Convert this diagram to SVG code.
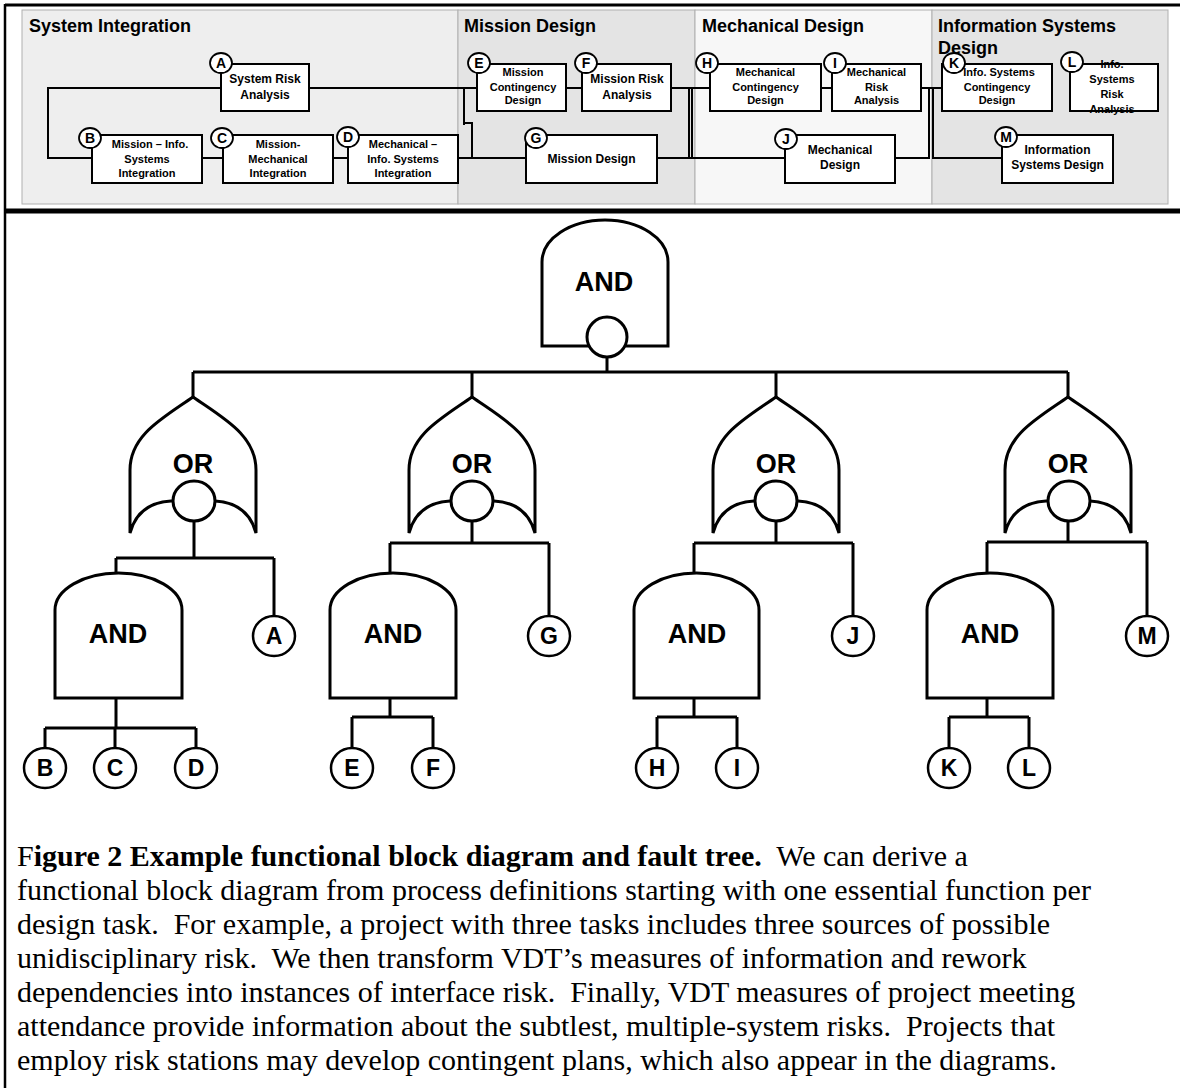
<svg xmlns="http://www.w3.org/2000/svg" width="1180" height="1088" viewBox="0 0 1180 1088">
<style>
.bg{fill:#fff}
.panel{stroke:#b0b0b0;stroke-width:1}
.frame{stroke:#000;fill:none}
.box{fill:#fff;stroke:#000;stroke-width:2}
.tag{fill:#fff;stroke:#000;stroke-width:1.8}
.conn{fill:none;stroke:#000;stroke-width:2}
.ftc{fill:none;stroke:#000;stroke-width:3}
.gate{fill:#fff;stroke:#000;stroke-width:3}
.ev{fill:#fff;stroke:#000;stroke-width:2.5}
.title{font-family:"Liberation Sans",Arial,sans-serif;font-weight:bold;font-size:18px;fill:#000}
.t12{font-family:"Liberation Sans",Arial,sans-serif;font-weight:bold;font-size:12px;fill:#000;text-anchor:middle}
.t11{font-family:"Liberation Sans",Arial,sans-serif;font-weight:bold;font-size:11px;fill:#000;text-anchor:middle}
.tagt{font-family:"Liberation Sans",Arial,sans-serif;font-weight:bold;font-size:14px;fill:#000;text-anchor:middle}
.gt{font-family:"Liberation Sans",Arial,sans-serif;font-weight:bold;font-size:27px;fill:#000;text-anchor:middle}
.evt{font-family:"Liberation Sans",Arial,sans-serif;font-weight:bold;font-size:23px;fill:#000;text-anchor:middle}
.cap{font-family:"Liberation Serif","Times New Roman",serif;font-size:30px;fill:#000;white-space:pre}
</style>
<rect class="bg" x="0" y="0" width="1180" height="1088"/>

<!-- panels -->
<g id="panels">
<rect class="panel" x="22" y="10" width="436" height="194" fill="#eeeeee"/>
<rect class="panel" x="458" y="10" width="237" height="194" fill="#e4e4e4"/>
<rect class="panel" x="695" y="10" width="237" height="194" fill="#f7f7f7"/>
<rect class="panel" x="932" y="10" width="236" height="194" fill="#e4e4e4"/>
<text class="title" x="29" y="32">System Integration</text>
<text class="title" x="464" y="32">Mission Design</text>
<text class="title" x="702" y="32">Mechanical Design</text>
<text class="title" x="938" y="32">Information Systems</text>
<text class="title" x="938" y="54">Design</text>
</g>

<!-- frame -->
<g id="frame">
<line class="frame" x1="5" y1="5" x2="1180" y2="5" stroke-width="3"/>
<line class="frame" x1="5" y1="4" x2="5" y2="1088" stroke-width="2.5"/>
<line class="frame" x1="5" y1="211" x2="1180" y2="211" stroke-width="5"/>
</g>

<!-- block diagram connectors -->
<g id="block-connectors">
<path class="conn" d="M221 88 H48 V158 H92"/>
<path class="conn" d="M202 158 H223"/>
<path class="conn" d="M333 158 H348"/>
<path class="conn" d="M309 88 H477"/>
<path class="conn" d="M464 88 V125 M464 123 H472 V158"/>
<path class="conn" d="M458 158 H526"/>
<path class="conn" d="M566 88 H582"/>
<path class="conn" d="M671 88 H710"/>
<path class="conn" d="M689 88 V158 M692 88 V158"/>
<path class="conn" d="M657 158 H785"/>
<path class="conn" d="M821 88 H832"/>
<path class="conn" d="M921 88 H942"/>
<path class="conn" d="M895 158 H929 V88"/>
<path class="conn" d="M933 88 V158 H1002"/>
</g>

<!-- block diagram nodes -->
<g id="node-A">
<rect class="box" x="221" y="64" width="88" height="47"/>
<text class="t12" x="265"><tspan x="265" y="83">System Risk</tspan><tspan x="265" y="99">Analysis</tspan></text>
<ellipse class="tag" cx="221" cy="63" rx="11" ry="10"/>
<text class="tagt" x="221" y="68">A</text>
</g>
<g id="node-B">
<rect class="box" x="92" y="135" width="110" height="48"/>
<text class="t11"><tspan x="150" y="148">Mission – Info.</tspan><tspan x="147" y="163">Systems</tspan><tspan x="147" y="177">Integration</tspan></text>
<ellipse class="tag" cx="90" cy="138" rx="11" ry="10"/>
<text class="tagt" x="90" y="143">B</text>
</g>
<g id="node-C">
<rect class="box" x="223" y="135" width="110" height="48"/>
<text class="t11"><tspan x="278" y="148">Mission-</tspan><tspan x="278" y="163">Mechanical</tspan><tspan x="278" y="177">Integration</tspan></text>
<ellipse class="tag" cx="222" cy="138" rx="11" ry="10"/>
<text class="tagt" x="222" y="143">C</text>
</g>
<g id="node-D">
<rect class="box" x="348" y="135" width="110" height="48"/>
<text class="t11"><tspan x="403" y="148">Mechanical –</tspan><tspan x="403" y="163">Info. Systems</tspan><tspan x="403" y="177">Integration</tspan></text>
<ellipse class="tag" cx="348" cy="137" rx="11" ry="10"/>
<text class="tagt" x="348" y="142">D</text>
</g>
<g id="node-E">
<rect class="box" x="477" y="64" width="89" height="47"/>
<text class="t11"><tspan x="523" y="76">Mission</tspan><tspan x="523" y="91">Contingency</tspan><tspan x="523" y="104">Design</tspan></text>
<ellipse class="tag" cx="479" cy="63" rx="11" ry="10"/>
<text class="tagt" x="479" y="68">E</text>
</g>
<g id="node-F">
<rect class="box" x="582" y="64" width="89" height="47"/>
<text class="t12"><tspan x="627" y="83">Mission Risk</tspan><tspan x="627" y="99">Analysis</tspan></text>
<ellipse class="tag" cx="586" cy="63" rx="11" ry="10"/>
<text class="tagt" x="586" y="68">F</text>
</g>
<g id="node-G">
<rect class="box" x="526" y="135" width="131" height="48"/>
<text class="t12" x="591.5" y="163">Mission Design</text>
<ellipse class="tag" cx="536" cy="138" rx="11" ry="10"/>
<text class="tagt" x="536" y="143">G</text>
</g>
<g id="node-H">
<rect class="box" x="710" y="64" width="111" height="47"/>
<text class="t11"><tspan x="765.5" y="76">Mechanical</tspan><tspan x="765.5" y="91">Contingency</tspan><tspan x="765.5" y="104">Design</tspan></text>
<ellipse class="tag" cx="707" cy="63" rx="11" ry="10"/>
<text class="tagt" x="707" y="68">H</text>
</g>
<g id="node-I">
<rect class="box" x="832" y="64" width="89" height="47"/>
<text class="t11"><tspan x="876.5" y="76">Mechanical</tspan><tspan x="876.5" y="91">Risk</tspan><tspan x="876.5" y="104">Analysis</tspan></text>
<ellipse class="tag" cx="835" cy="63" rx="11" ry="10"/>
<text class="tagt" x="835" y="68">I</text>
</g>
<g id="node-J">
<rect class="box" x="785" y="135" width="110" height="48"/>
<text class="t12"><tspan x="840" y="154">Mechanical</tspan><tspan x="840" y="169">Design</tspan></text>
<ellipse class="tag" cx="786" cy="139" rx="11" ry="10"/>
<text class="tagt" x="786" y="144">J</text>
</g>
<g id="node-K">
<rect class="box" x="942" y="64" width="110" height="47"/>
<text class="t11"><tspan x="999" y="76">Info. Systems</tspan><tspan x="997" y="91">Contingency</tspan><tspan x="997" y="104">Design</tspan></text>
<ellipse class="tag" cx="954" cy="63" rx="11" ry="10"/>
<text class="tagt" x="954" y="68">K</text>
</g>
<g id="node-L">
<rect class="box" x="1070" y="64" width="88" height="47"/>
<text class="t11"><tspan x="1112" y="68">Info.</tspan><tspan x="1112" y="83">Systems</tspan><tspan x="1112" y="98">Risk</tspan><tspan x="1112" y="113">Analysis</tspan></text>
<ellipse class="tag" cx="1072" cy="62" rx="11" ry="10"/>
<text class="tagt" x="1072" y="67">L</text>
</g>
<g id="node-M">
<rect class="box" x="1002" y="135" width="111" height="48"/>
<text class="t12"><tspan x="1057.5" y="154">Information</tspan><tspan x="1057.5" y="169">Systems Design</tspan></text>
<ellipse class="tag" cx="1006" cy="137" rx="11" ry="10"/>
<text class="tagt" x="1006" y="142">M</text>
</g>

<!-- fault tree connectors -->
<g id="tree-connectors">
<path class="ftc" d="M607 356 V372 M193 372 H1068 M193 372 V397 M472 372 V397 M776 372 V397 M1068 372 V397"/>
<path class="ftc" d="M194 521 V558 M116 558 H274 M116 558 V573 M274 558 V616 M116 698 V728 M45 728 H196 M45 728 V748 M115 728 V748 M196 728 V748"/>
<path class="ftc" d="M472 521 V543 M390 543 H549 M390 543 V573 M549 543 V616 M390 698 V717 M352 717 H433 M352 717 V748 M433 717 V748"/>
<path class="ftc" d="M776 521 V543 M694 543 H853 M694 543 V573 M853 543 V616 M694 698 V717 M657 717 H737 M657 717 V748 M737 717 V748"/>
<path class="ftc" d="M1068 521 V542 M987 542 H1147 M987 542 V573 M1147 542 V616 M987 698 V717 M949 717 H1029 M949 717 V748 M1029 717 V748"/>
</g>

<!-- gates -->
<g id="gate-and-top">
<path class="gate" d="M542 346 L542 262 A63 42 0 0 1 668 262 L668 346 Z"/>
<text class="gt" x="604" y="291">AND</text>
<circle class="gate" cx="607" cy="337" r="20"/>
</g>
<g id="gate-or-1">
<path class="gate" d="M130 533 L130 470 C130 435 163 418 193 397 C223 418 256 435 256 470 L256 533 Q248 503 215 501 L171 501 Q138 503 130 533 Z"/>
<text class="gt" x="193" y="473">OR</text>
<ellipse class="gate" cx="194" cy="501" rx="21" ry="20"/>
</g>
<g id="gate-or-2">
<path class="gate" d="M409 533 L409 470 C409 435 442 418 472 397 C502 418 535 435 535 470 L535 533 Q527 503 494 501 L450 501 Q417 503 409 533 Z"/>
<text class="gt" x="472" y="473">OR</text>
<ellipse class="gate" cx="472" cy="501" rx="21" ry="20"/>
</g>
<g id="gate-or-3">
<path class="gate" d="M713 533 L713 470 C713 435 746 418 776 397 C806 418 839 435 839 470 L839 533 Q831 503 798 501 L754 501 Q721 503 713 533 Z"/>
<text class="gt" x="776" y="473">OR</text>
<ellipse class="gate" cx="776" cy="501" rx="21" ry="20"/>
</g>
<g id="gate-or-4">
<path class="gate" d="M1005 533 L1005 470 C1005 435 1038 418 1068 397 C1098 418 1131 435 1131 470 L1131 533 Q1123 503 1090 501 L1046 501 Q1013 503 1005 533 Z"/>
<text class="gt" x="1068" y="473">OR</text>
<ellipse class="gate" cx="1069" cy="501" rx="21" ry="20"/>
</g>
<g id="gate-and-1">
<path class="gate" d="M55 698 L55 610 A63.5 37 0 0 1 182 610 L182 698 Z"/>
<text class="gt" x="118" y="643">AND</text>
</g>
<g id="gate-and-2">
<path class="gate" d="M330 698 L330 610 A63 37 0 0 1 456 610 L456 698 Z"/>
<text class="gt" x="393" y="643">AND</text>
</g>
<g id="gate-and-3">
<path class="gate" d="M634 698 L634 610 A62.5 37 0 0 1 759 610 L759 698 Z"/>
<text class="gt" x="697" y="643">AND</text>
</g>
<g id="gate-and-4">
<path class="gate" d="M927 698 L927 610 A63 37 0 0 1 1053 610 L1053 698 Z"/>
<text class="gt" x="990" y="643">AND</text>
</g>

<!-- basic events -->
<g id="ev-A"><ellipse class="ev" cx="274" cy="636" rx="21" ry="20"/><text class="evt" x="274" y="644">A</text></g>
<g id="ev-G"><ellipse class="ev" cx="549" cy="636" rx="21" ry="20"/><text class="evt" x="549" y="644">G</text></g>
<g id="ev-J"><ellipse class="ev" cx="853" cy="636" rx="21" ry="20"/><text class="evt" x="853" y="644">J</text></g>
<g id="ev-M"><ellipse class="ev" cx="1147" cy="636" rx="21" ry="20"/><text class="evt" x="1147" y="644">M</text></g>
<g id="ev-B"><ellipse class="ev" cx="45" cy="768" rx="21" ry="20"/><text class="evt" x="45" y="776">B</text></g>
<g id="ev-C"><ellipse class="ev" cx="115" cy="768" rx="21" ry="20"/><text class="evt" x="115" y="776">C</text></g>
<g id="ev-D"><ellipse class="ev" cx="196" cy="768" rx="21" ry="20"/><text class="evt" x="196" y="776">D</text></g>
<g id="ev-E"><ellipse class="ev" cx="352" cy="768" rx="21" ry="20"/><text class="evt" x="352" y="776">E</text></g>
<g id="ev-F"><ellipse class="ev" cx="433" cy="768" rx="21" ry="20"/><text class="evt" x="433" y="776">F</text></g>
<g id="ev-H"><ellipse class="ev" cx="657" cy="768" rx="21" ry="20"/><text class="evt" x="657" y="776">H</text></g>
<g id="ev-I"><ellipse class="ev" cx="737" cy="768" rx="21" ry="20"/><text class="evt" x="737" y="776">I</text></g>
<g id="ev-K"><ellipse class="ev" cx="949" cy="768" rx="21" ry="20"/><text class="evt" x="949" y="776">K</text></g>
<g id="ev-L"><ellipse class="ev" cx="1029" cy="768" rx="21" ry="20"/><text class="evt" x="1029" y="776">L</text></g>

<!-- caption -->
<g id="caption">
<text class="cap" x="17" y="866">F<tspan font-weight="bold">igure 2 Example functional block diagram and fault tree.</tspan>  We can derive a</text>
<text class="cap" x="17" y="900">functional block diagram from process definitions starting with one essential function per</text>
<text class="cap" x="17" y="934">design task.  For example, a project with three tasks includes three sources of possible</text>
<text class="cap" x="17" y="968">unidisciplinary risk.  We then transform VDT’s measures of information and rework</text>
<text class="cap" x="17" y="1002">dependencies into instances of interface risk.  Finally, VDT measures of project meeting</text>
<text class="cap" x="17" y="1036">attendance provide information about the subtlest, multiple-system risks.  Projects that</text>
<text class="cap" x="17" y="1070">employ risk stations may develop contingent plans, which also appear in the diagrams.</text>
</g>
</svg>
